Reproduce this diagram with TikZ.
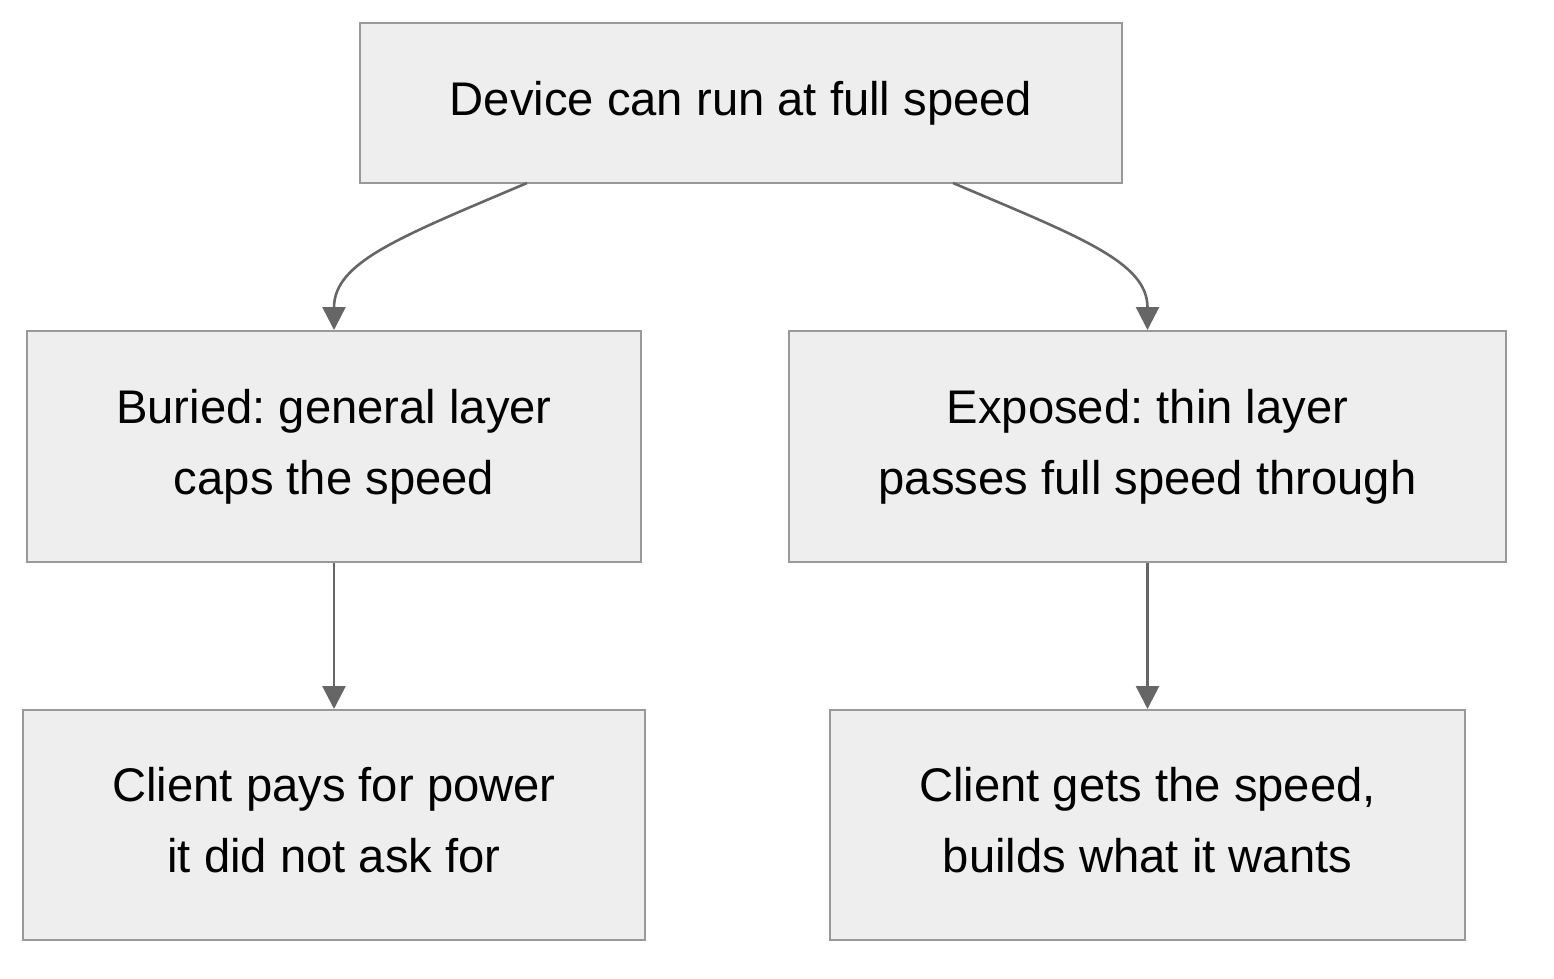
\documentclass[tikz,border=0pt]{standalone}
\usepackage{fontspec}
\setmainfont{Liberation Sans}
\usetikzlibrary{arrows.meta}
\definecolor{boxfill}{HTML}{EEEEEE}
\definecolor{boxline}{HTML}{999999}
\definecolor{edgecol}{HTML}{666666}
\frenchspacing
\tikzset{
  flowbox/.style={draw=boxline, fill=boxfill, line width=2pt, inner sep=0pt,
    align=center, font=\fontsize{47.2}{71}\selectfont\frenchspacing, text=black},
  flowedge/.style={draw=edgecol, line width=2.6pt,
    -{Triangle[length=23pt,width=23pt]}}
}
\begin{document}
\begin{tikzpicture}[x=1pt,y=-1pt]
\useasboundingbox (0,0) rectangle (1554,978);
\node[flowbox, minimum width=762pt, minimum height=160pt] (top) at (741,103) {Device can run at full speed};
\node[flowbox, minimum width=614pt, minimum height=231pt] (buried) at (334,446.5) {Buried: general layer\\caps the speed};
\node[flowbox, minimum width=717pt, minimum height=231pt] (exposed) at (1147.5,446.5) {Exposed: thin layer\\passes full speed through};
\node[flowbox, minimum width=622pt, minimum height=230pt] (pays) at (334,825) {Client pays for power\\it did not ask for\vphantom{p}};
\node[flowbox, minimum width=635pt, minimum height=230pt] (gets) at (1147.5,825) {Client gets the speed,\\builds what it wants\vphantom{p}};
\coordinate (s1) at (527,183);
\coordinate (s2) at (953,183);
\draw[flowedge] (s1) .. controls (400,237) and (334,262) .. (buried.north);
\draw[flowedge] (s2) .. controls (1080,237) and (1147.5,262) .. (exposed.north);
\draw[flowedge] (buried.south) -- (pays.north);
\draw[flowedge] (exposed.south) -- (gets.north);
\end{tikzpicture}
\end{document}
